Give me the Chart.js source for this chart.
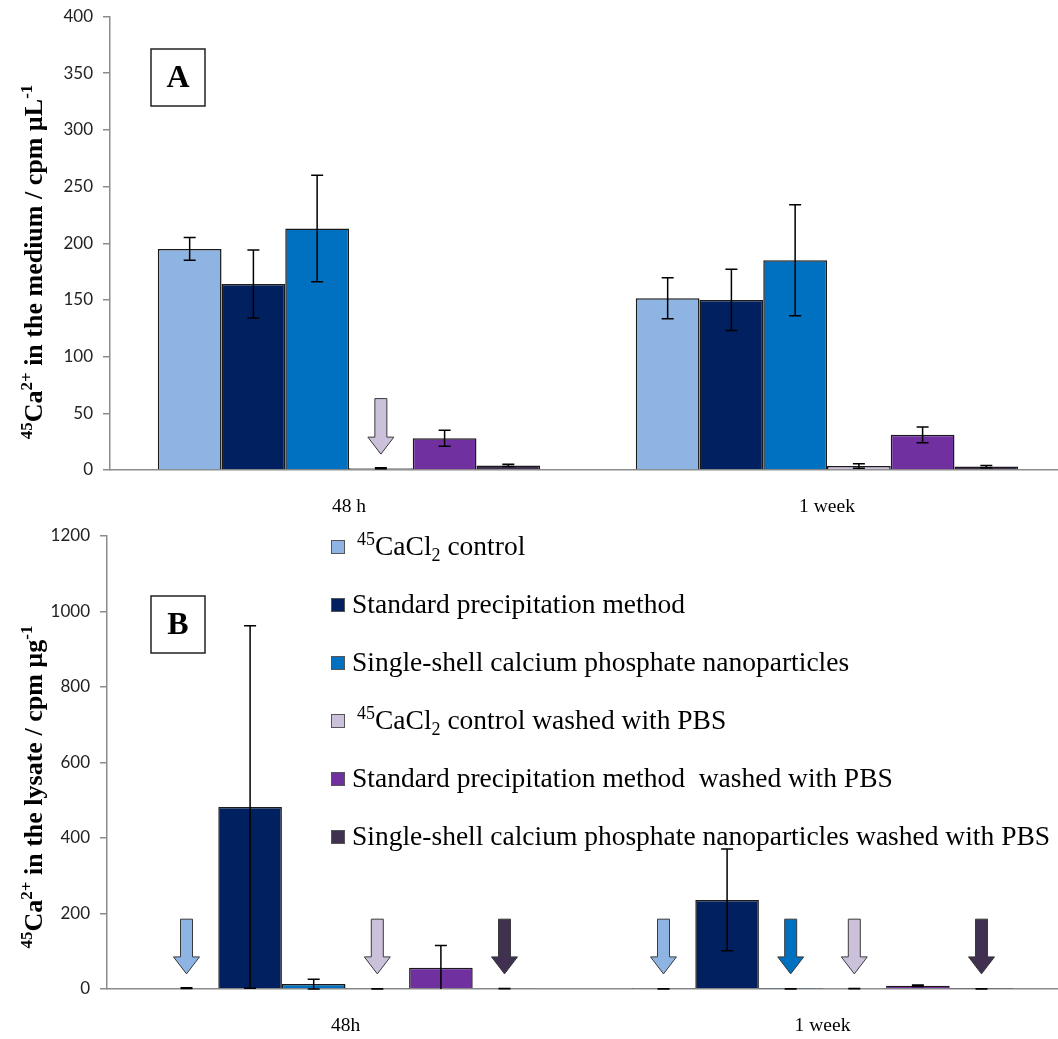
<!DOCTYPE html>
<html>
<head>
<meta charset="utf-8">
<script src="https://cdn.jsdelivr.net/npm/chart.js@4.4.0/dist/chart.umd.min.js"></script>
<style>
  html, body { margin: 0; padding: 0; overflow: hidden; background: #fff; }
  #chartA { position: absolute; left: 0; top: 0; }
  #chartB { position: absolute; left: 0; top: 520px; }
</style>
</head>
<body>
<canvas id="chartA" width="1066" height="520"></canvas>
<canvas id="chartB" width="1061" height="519"></canvas>
<script>
// categories
const categoriesA = ['48 h', '1 week'];
const categoriesB = ['48h', '1 week'];

// series (^{..} = superscript, _{..} = subscript)
const seriesNames = [
  '^{45}CaCl_{2} control',
  'Standard precipitation method',
  'Single-shell calcium phosphate nanoparticles',
  '^{45}CaCl_{2} control washed with PBS',
  'Standard precipitation method  washed with PBS',
  'Single-shell calcium phosphate nanoparticles washed with PBS'
];
const seriesColors = ['#8eb4e3', '#002060', '#0070c0', '#ccc1da', '#7030a0', '#403151'];

// panel A: medium, [48 h, 1 week] per series
const mediumValues = [[195, 151.5], [164, 150], [213, 185], [1.5, 3.5], [28, 31], [4, 3]];
const mediumErrors = [[10, 18], [30, 27], [47, 49], [0.5, 2], [7, 7], [1, 1]];

// panel B: lysate
const lysateValues = [[2, 0.5], [482, 236], [13, 0.5], [0.5, 1], [56, 8.5], [1, 0.5]];
const lysateErrors = [[1, 0.3], [480, 135], [13, 0.3], [0.3, 0.5], [59, 2], [0.5, 0.3]];

// tick labels
const ticksA = [0, 50, 100, 150, 200, 250, 300, 350, 400];
const ticksB = [0, 200, 400, 600, 800, 1000, 1200];

// arrows: [series, category], from / to value
const arrowsA = [[3, 0]];
const arrowSpanA = [63, 14];
const arrowsB = [[0, 0], [3, 0], [5, 0], [0, 1], [2, 1], [3, 1], [5, 1]];
const arrowSpanB = [185, 40];

const titleA = '^{45}Ca^{2+} in the medium / cpm µL^{-1}';
const titleB = '^{45}Ca^{2+} in the lysate / cpm µg^{-1}';

function parseRich(s) {
  const out = [];
  const re = /([\^_])\{([^}]*)\}|([^\^_]+)/g;
  let m;
  while ((m = re.exec(s))) {
    if (m[3]) out.push({ t: m[3], k: '' });
    else out.push({ t: m[2], k: m[1] });
  }
  return out;
}

function richFont(seg, size, weight) {
  const s = seg.k ? Math.round(size * 0.65) : size;
  return weight + ' ' + s + 'px "Liberation Serif", "Times New Roman", serif';
}

function richWidth(ctx, segs, size, weight) {
  let w = 0;
  segs.forEach(seg => { ctx.font = richFont(seg, size, weight); w += ctx.measureText(seg.t).width; });
  return w;
}

// draws at baseline y, starting at x
function drawRich(ctx, str, x, y, size, weight) {
  const segs = parseRich(str);
  ctx.textBaseline = 'alphabetic';
  ctx.textAlign = 'left';
  segs.forEach(seg => {
    ctx.font = richFont(seg, size, weight);
    let dy = 0;
    if (seg.k === '^') dy = -size * 0.38;
    if (seg.k === '_') dy = size * 0.22;
    ctx.fillText(seg.t, x, y + dy);
    x += ctx.measureText(seg.t).width;
  });
}

function drawArrow(ctx, cx, top, bottom, color) {
  const sw = 6, hw = 13, hh = 17;
  ctx.beginPath();
  ctx.moveTo(cx - sw, top);
  ctx.lineTo(cx + sw, top);
  ctx.lineTo(cx + sw, bottom - hh);
  ctx.lineTo(cx + hw, bottom - hh);
  ctx.lineTo(cx, bottom);
  ctx.lineTo(cx - hw, bottom - hh);
  ctx.lineTo(cx - sw, bottom - hh);
  ctx.closePath();
  ctx.fillStyle = color;
  ctx.fill();
  ctx.strokeStyle = '#3a3a3a';
  ctx.lineWidth = 1;
  ctx.stroke();
}

const decorPlugin = {
  id: 'decor',
  afterDatasetsDraw(chart, args, o) {
    const ctx = chart.ctx;
    const y = chart.scales.y;
    const area = chart.chartArea;

    // error bars
    ctx.save();
    ctx.strokeStyle = '#000';
    ctx.lineWidth = 1.5;
    o.errors.forEach((errs, di) => {
      const meta = chart.getDatasetMeta(di);
      meta.data.forEach((bar, ci) => {
        const v = chart.data.datasets[di].data[ci];
        const e = errs[ci];
        const top = y.getPixelForValue(v + e);
        const lowRaw = y.getPixelForValue(v - e);
        const low = Math.min(lowRaw, area.bottom);
        ctx.beginPath();
        ctx.moveTo(bar.x, top); ctx.lineTo(bar.x, low);
        ctx.moveTo(bar.x - 6, top); ctx.lineTo(bar.x + 6, top);
        if (lowRaw <= area.bottom) { ctx.moveTo(bar.x - 6, lowRaw); ctx.lineTo(bar.x + 6, lowRaw); }
        ctx.stroke();
      });
    });
    ctx.restore();

    // arrows
    ctx.save();
    o.arrows.forEach(([di, ci]) => {
      const bar = chart.getDatasetMeta(di).data[ci];
      drawArrow(ctx, bar.x, y.getPixelForValue(o.arrowSpan[0]), y.getPixelForValue(o.arrowSpan[1]), seriesColors[di]);
    });
    ctx.restore();

    // panel letter box
    ctx.save();
    ctx.fillStyle = '#fff';
    ctx.fillRect(o.box[0], o.box[1], 54, 57);
    ctx.strokeStyle = '#222';
    ctx.lineWidth = 1.5;
    ctx.strokeRect(o.box[0], o.box[1], 54, 57);
    ctx.fillStyle = '#000';
    ctx.font = 'bold 32px "Liberation Serif", serif';
    ctx.textAlign = 'center';
    ctx.textBaseline = 'middle';
    ctx.fillText(o.letter, o.box[0] + 27, o.box[1] + 30);
    ctx.restore();

    // y axis title
    ctx.save();
    ctx.fillStyle = '#000';
    const segs = parseRich(o.title);
    const w = richWidth(ctx, segs, 26, 'bold');
    ctx.translate(o.titlePos[0], o.titlePos[1]);
    ctx.rotate(-Math.PI / 2);
    drawRich(ctx, o.title, -w / 2, 0, 26, 'bold');
    ctx.restore();

    // legend
    if (o.legend) {
      ctx.save();
      seriesNames.forEach((name, i) => {
        const cy = o.legend[1] + i * 58;
        ctx.fillStyle = seriesColors[i];
        ctx.fillRect(o.legend[0], cy - 7, 14, 14);
        ctx.strokeStyle = '#555';
        ctx.lineWidth = 1;
        ctx.strokeRect(o.legend[0] + 0.5, cy - 6.5, 13, 13);
        ctx.fillStyle = '#000';
        const pad = name.startsWith('^') ? 26 : 21;
        drawRich(ctx, name, o.legend[0] + pad, cy + 8, 27.5, 'normal');
      });
      ctx.restore();
    }
  }
};

function makeChart(id, labels, values, errors, ticks, axisWidth, topPad, extra) {
  return new Chart(document.getElementById(id), {
    type: 'bar',
    data: {
      labels: labels,
      datasets: seriesNames.map((name, i) => ({
        label: name,
        data: values[i],
        backgroundColor: seriesColors[i],
        borderColor: '#1a1a1a',
        borderWidth: 1.5,
        categoryPercentage: 0.8,
        barPercentage: 1.0
      }))
    },
    options: {
      responsive: false,
      animation: false,
      layout: { padding: { top: topPad, right: 0, left: 0, bottom: 0 } },
      plugins: {
        legend: { display: false },
        tooltip: { enabled: false },
        decor: Object.assign({ errors: errors }, extra)
      },
      scales: {
        x: {
          grid: { display: false },
          border: { color: '#8c8c8c', width: 1.5 },
          ticks: { color: '#000', font: { family: 'Liberation Serif', size: 19.5 }, padding: 17 },
          afterFit(s) { s.height = 50; }
        },
        y: {
          min: ticks[0],
          max: ticks[ticks.length - 1],
          ticks: {
            stepSize: ticks[1] - ticks[0],
            color: '#222',
            font: { family: 'Lato', size: 17 },
            padding: 10,
            callback: v => String(v)
          },
          grid: { drawOnChartArea: false, tickLength: 7, color: '#8c8c8c', lineWidth: 1.5 },
          border: { color: '#8c8c8c', width: 1.5 },
          afterFit(s) {
            s.width = axisWidth;
            s.paddingTop = 0;
            s.paddingBottom = 0;
          }
        }
      }
    },
    plugins: [decorPlugin]
  });
}

makeChart('chartA', categoriesA, mediumValues, mediumErrors, ticksA, 110, 16.5, {
  arrows: arrowsA, arrowSpan: arrowSpanA, box: [151, 49], letter: 'A',
  title: titleA, titlePos: [42, 262]
});
makeChart('chartB', categoriesB, lysateValues, lysateErrors, ticksB, 107, 16, {
  arrows: arrowsB, arrowSpan: arrowSpanB, box: [151, 76], letter: 'B',
  title: titleB, titlePos: [42, 267], legend: [331, 27]
});
</script>
</body>
</html>
